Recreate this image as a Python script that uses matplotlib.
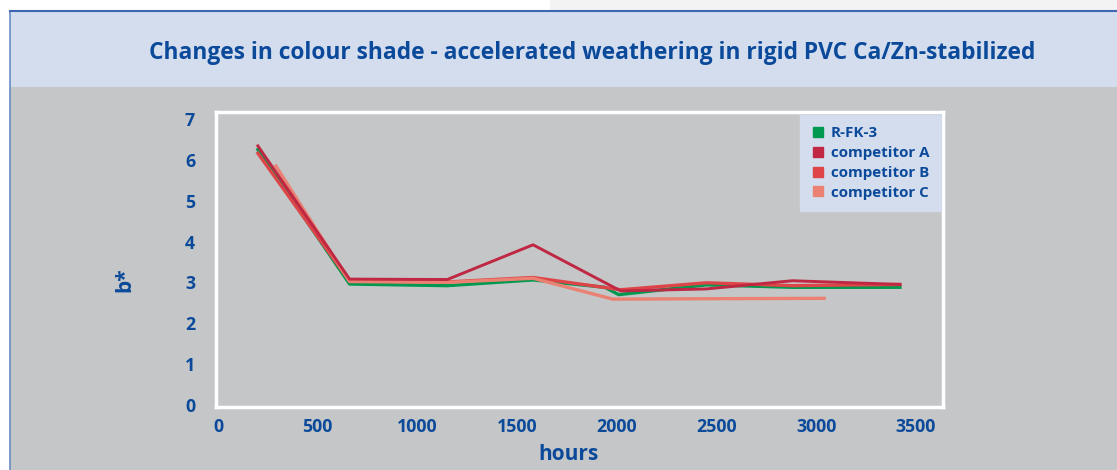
import matplotlib.pyplot as plt
from matplotlib.patches import Rectangle
from matplotlib.lines import Line2D

# data (hours vs b*)
hours_rfk = [200, 660, 1150, 1580, 1940, 2010, 2450, 2880, 3420]
rfk3 = [6.25, 2.96, 2.92, 3.06, 2.88, 2.70, 2.94, 2.88, 2.88]

hours_ab = [200, 660, 1150, 1580, 2020, 2450, 2880, 3420]
comp_a = [6.34, 3.08, 3.07, 3.92, 2.79, 2.84, 3.04, 2.95]
comp_b = [6.16, 3.03, 3.01, 3.12, 2.82, 2.99, 2.92, 2.95]

hours_c = [290, 660, 1150, 1580, 1980, 2450, 3040]
comp_c = [5.85, 3.02, 3.00, 3.10, 2.59, 2.60, 2.61]

labels = ["R-FK-3", "competitor A", "competitor B", "competitor C"]
colors = ["#00994f", "#bf2743", "#de4548", "#ea8173"]

BLUE = "#0b4a9a"
GRAY = "#c5c6c8"
LIGHT = "#d4ddee"
W, H = 1117, 470

plt.rcParams['font.family'] = ['Open Sans', 'DejaVu Sans']

fig = plt.figure(figsize=(W / 100, H / 100), dpi=100)
fig.patch.set_facecolor("white")

def frect(x0, y0, x1, y1, color):
    # rectangle in pixel coords measured from the top-left corner
    fig.patches.append(Rectangle((x0 / W, 1 - y1 / H), (x1 - x0) / W, (y1 - y0) / H,
                                 transform=fig.transFigure, facecolor=color,
                                 edgecolor="none", zorder=-10))

frect(550, 0, W, 11, "#f3f3f3")
frect(10, 11, W, 87, LIGHT)
frect(10, 87, W, H, GRAY)
fig.lines.append(Line2D([10 / W, 10 / W], [0, 1 - 11 / H], transform=fig.transFigure,
                        color="#6a8cc4", lw=1.2, zorder=-5))
fig.lines.append(Line2D([10 / W, 1], [1 - 11 / H, 1 - 11 / H], transform=fig.transFigure,
                        color="#3f66b0", lw=1.5, zorder=-5))

fig.text(592 / W, 1 - 53 / H,
         "Changes in colour shade - accelerated weathering in rigid PVC Ca/Zn-stabilized",
         ha="center", va="center", color=BLUE, fontsize=16.4, fontweight="bold")

ax = fig.add_axes([216 / W, 1 - 407 / H, (943 - 216) / W, (407 - 112) / H])
ax.set_facecolor(GRAY)
for s in ax.spines.values():
    s.set_color("white")
    s.set_linewidth(2.5)

ax.plot(hours_rfk, rfk3, color=colors[0], lw=2.4, solid_joinstyle="round")
ax.plot(hours_ab, comp_b, color=colors[2], lw=2.4, solid_joinstyle="round")
ax.plot(hours_c, comp_c, color=colors[3], lw=2.4, solid_joinstyle="round")
ax.plot(hours_ab, comp_a, color=colors[1], lw=2.1, solid_joinstyle="round")

ax.set_xlim(-10, 3636)
ax.set_ylim(-0.05, 7.17)
ax.set_xticks(range(0, 3501, 500))
ax.set_yticks(range(0, 8))
ax.tick_params(length=0, colors=BLUE, labelsize=12.8)
ax.tick_params(axis="y", pad=15)
ax.tick_params(axis="x", pad=8)
for t in ax.get_xticklabels() + ax.get_yticklabels():
    t.set_fontweight("bold")

fig.text(568 / W, 1 - 455 / H, "hours", ha="center", va="center",
         color=BLUE, fontsize=15, fontweight="bold")
fig.text(125 / W, 1 - 280 / H, "b*", ha="center", va="center", rotation=90,
         color=BLUE, fontsize=15, fontweight="bold")

handles = [Line2D([], [], marker="s", ls="none", color=c, markersize=7) for c in colors]
leg = ax.legend(handles, labels, loc="upper right", bbox_to_anchor=(0.9972, 0.99),
                borderaxespad=0, frameon=True, fancybox=False, facecolor=LIGHT,
                edgecolor=LIGHT, framealpha=1, handletextpad=0.4, labelspacing=0.38,
                borderpad=0.75, handlelength=0.9, prop={"weight": "bold", "size": 10.9})
for t in leg.get_texts():
    t.set_color(BLUE)

fig.savefig("out.png", dpi=100)
